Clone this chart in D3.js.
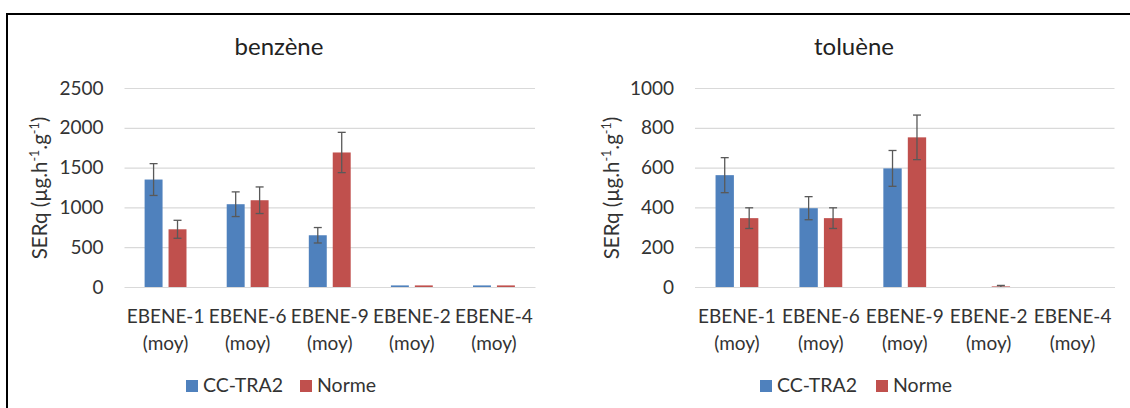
<!DOCTYPE html>
<html>
<head>
<meta charset="utf-8">
<script src="https://cdn.jsdelivr.net/npm/d3@7"></script>
<style>
  html, body { margin: 0; padding: 0; background: #fff; }
  svg { display: block; font-family: Lato, "Open Sans", sans-serif; }
</style>
</head>
<body>
<svg id="chart" width="1130" height="408"></svg>
<script>
// données
const categories = ["EBENE-1", "EBENE-6", "EBENE-9", "EBENE-2", "EBENE-4"];
const catSuffix = "(moy)";
const series = ["CC-TRA2", "Norme"];
const colors = ["#4f81bd", "#c0504d"];

const benzeneCC = [1350, 1040, 650, 20, 20];
const benzeneCCErr = [200, 155, 97, 0, 0];
const benzeneNorme = [725, 1090, 1690, 20, 20];
const benzeneNormeErr = [113, 167, 253, 0, 0];
const benzeneTicks = [0, 500, 1000, 1500, 2000, 2500];

const tolueneCC = [562, 396, 596, 0, 0];
const tolueneCCErr = [88, 58, 90, 0, 0];
const tolueneNorme = [346, 346, 752, 3, 0];
const tolueneNormeErr = [52, 52, 112, 5, 0];
const tolueneTicks = [0, 200, 400, 600, 800, 1000];

const textColor = "#333";
const svg = d3.select("#chart");

// cadre
svg.append("path")
  .attr("d", "M7,408V14H1130")
  .attr("fill", "none")
  .attr("stroke", "#000")
  .attr("stroke-width", 2);

function drawPanel(p) {
  const top = 88, bottom = 287;

  const x0 = d3.scaleBand().domain(categories).range([p.left, p.right]);
  const x1 = d3.scaleBand().domain(series)
    .range([0, x0.bandwidth()])
    .paddingInner(0.25)
    .paddingOuter(0.84);
  const y = d3.scaleLinear().domain([0, p.max]).range([bottom, top]);

  const g = svg.append("g");

  // titre
  g.append("text")
    .attr("x", p.titleX)
    .attr("y", 55)
    .attr("text-anchor", "middle")
    .attr("font-size", 24)
    .attr("fill", "#222")
    .text(p.title);

  // grille + graduations
  const yAxis = g.append("g")
    .attr("transform", `translate(${p.left},0)`)
    .call(d3.axisLeft(y).tickValues(p.ticks).tickFormat(d3.format("d"))
      .tickSize(-(p.right - p.left)).tickPadding(21));
  yAxis.select(".domain").remove();
  yAxis.selectAll("line").attr("stroke", "#d9d9d9").attr("stroke-width", 1.2);
  yAxis.selectAll("text")
    .attr("font-size", 19)
    .attr("font-family", "Lato")
    .attr("fill", textColor);

  // titre de l'axe Y
  const yl = g.append("text")
    .attr("transform", `translate(${p.ylabelX},188) rotate(-90)`)
    .attr("text-anchor", "middle")
    .attr("font-size", 20.5)
    .attr("fill", textColor);
  yl.append("tspan").text("SERq (µg.h");
  yl.append("tspan").attr("font-size", 12.5).attr("dy", -8).text("-1");
  yl.append("tspan").attr("dy", 8).text(".g");
  yl.append("tspan").attr("font-size", 12.5).attr("dy", -8).text("-1");
  yl.append("tspan").attr("dy", 8).text(")");

  // barres
  const rows = categories.map((c, i) => ({
    cat: c,
    vals: [
      { s: series[0], v: p.cc[i], e: p.ccErr[i] },
      { s: series[1], v: p.norme[i], e: p.normeErr[i] },
    ],
  }));

  const grp = g.selectAll(".grp")
    .data(rows)
    .enter()
    .append("g")
    .attr("transform", (d) => `translate(${x0(d.cat)},0)`);

  grp.selectAll("rect")
    .data((d) => d.vals)
    .enter()
    .append("rect")
    .attr("x", (d) => x1(d.s))
    .attr("y", (d) => y(d.v))
    .attr("width", x1.bandwidth())
    .attr("height", (d) => bottom - y(d.v))
    .attr("fill", (d, i) => colors[i]);

  // barres d'erreur
  const err = grp.selectAll(".err")
    .data((d) => d.vals.filter((v) => v.e > 0))
    .enter()
    .append("g")
    .attr("stroke", "#595959")
    .attr("stroke-width", 1.3);
  const cx = (d) => x1(d.s) + x1.bandwidth() / 2;
  err.append("line")
    .attr("x1", cx).attr("x2", cx)
    .attr("y1", (d) => y(d.v + d.e))
    .attr("y2", (d) => y(d.v - d.e));
  [1, -1].forEach((k) => {
    err.append("line")
      .attr("x1", (d) => cx(d) - 4).attr("x2", (d) => cx(d) + 4)
      .attr("y1", (d) => y(d.v + k * d.e))
      .attr("y2", (d) => y(d.v + k * d.e));
  });

  // axe horizontal
  const xAxis = g.append("g")
    .attr("transform", `translate(0,${bottom})`)
    .call(d3.axisBottom(x0).tickSize(0).tickPadding(0));
  xAxis.select(".domain").attr("stroke", "#d9d9d9").attr("stroke-width", 1.2);
  xAxis.selectAll("text").remove();
  xAxis.selectAll(".tick").each(function (d) {
    const t = d3.select(this).append("text")
      .attr("text-anchor", "middle")
      .attr("font-size", 19)
      .attr("font-family", "Lato")
      .attr("fill", textColor);
    t.append("tspan").attr("x", 0).attr("y", 36).text(d);
    t.append("tspan").attr("x", 0).attr("y", 63).text(catSuffix);
  });

  // légende
  const lg = g.append("g");
  series.forEach((s, i) => {
    lg.append("rect")
      .attr("x", p.legendX[i])
      .attr("y", 380)
      .attr("width", 12)
      .attr("height", 12)
      .attr("fill", colors[i]);
    lg.append("text")
      .attr("x", p.legendX[i] + 17)
      .attr("y", 392)
      .attr("font-size", 19.5)
      .attr("fill", textColor)
      .text(s);
  });
}

drawPanel({
  title: "benzène", titleX: 279, left: 124.5, right: 535, max: 2500,
  ticks: benzeneTicks, ylabelX: 47,
  cc: benzeneCC, ccErr: benzeneCCErr, norme: benzeneNorme, normeErr: benzeneNormeErr,
  legendX: [186, 300],
});

drawPanel({
  title: "toluène", titleX: 854, left: 695, right: 1114.5, max: 1000,
  ticks: tolueneTicks, ylabelX: 619,
  cc: tolueneCC, ccErr: tolueneCCErr, norme: tolueneNorme, normeErr: tolueneNormeErr,
  legendX: [760, 876],
});
</script>
</body>
</html>
